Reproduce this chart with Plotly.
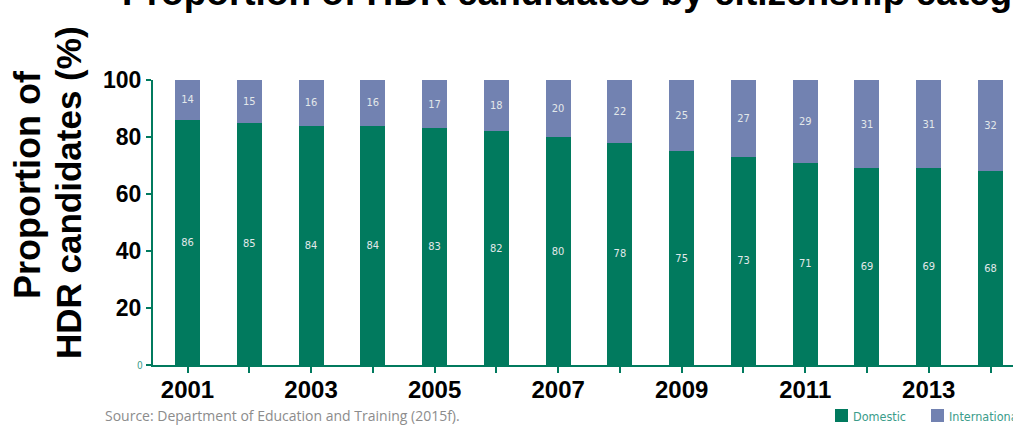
import plotly.graph_objects as go

years = list(range(2001, 2015))
domestic = [86, 85, 84, 84, 83, 82, 80, 78, 75, 73, 71, 69, 69, 68]
international = [14, 15, 16, 16, 17, 18, 20, 22, 25, 27, 29, 31, 31, 32]
series_names = ["Domestic", "International"]
x_tick_labels = [str(y) if y % 2 == 1 else "" for y in years]
y_tick_vals = [0, 20, 40, 60, 80, 100]
y_tick_labels = ["", "20", "40", "60", "80", "100"]

GREEN = "#017A5E"
PURPLE = "#7282B1"
TEAL_TXT = "#3B9C8A"
W, H = 1013, 425
L, R, T, B = 153, 0, 80, 60
PW, PH = W - L - R, H - T - B

def px(x):
    return (x - L) / PW

def py(y):
    return (H - B - y) / PH

bar_font = dict(family="DejaVu Sans Condensed, Liberation Sans Narrow, Arial", size=11, color="#E2E8EA")

fig = go.Figure()
fig.add_trace(go.Bar(x=years, y=domestic, name=series_names[0], marker=dict(color=GREEN, line=dict(width=0)),
                     width=0.405, text=domestic, textposition="inside", insidetextanchor="middle",
                     textangle=0, textfont=bar_font))
fig.add_trace(go.Bar(x=years, y=international, name=series_names[1], marker=dict(color=PURPLE, line=dict(width=0)),
                     width=0.405, text=international, textposition="inside", insidetextanchor="middle",
                     textangle=0, textfont=bar_font))

fig.update_layout(
    barmode="stack",
    width=W, height=H,
    margin=dict(l=L, r=R, t=T, b=B, pad=0),
    plot_bgcolor="white", paper_bgcolor="white",
    showlegend=False,
    font=dict(family="Liberation Sans, Arial", color="black"),
)
fig.update_xaxes(
    range=[2000.4415, 2014.364], tickmode="array", tickvals=years, ticktext=x_tick_labels,
    showline=True, linecolor=GREEN, linewidth=2, ticks="outside", ticklen=6, tickwidth=2, tickcolor=GREEN,
    tickfont=dict(family="Liberation Sans, Arial", size=24, color="black", weight="bold"),
    ticklabelstandoff=-4,
    showgrid=False, zeroline=False,
)
fig.update_yaxes(
    range=[0, 100], tickmode="array", tickvals=y_tick_vals, ticktext=y_tick_labels,
    showline=True, linecolor=GREEN, linewidth=2, ticks="outside", ticklen=5, tickwidth=2, tickcolor=GREEN,
    tickfont=dict(family="Liberation Sans, Arial", size=23, color="black", weight="bold"),
    showgrid=False, zeroline=False,
)

ann = []
# small green "0" tick label
ann.append(dict(xref="paper", yref="paper", x=px(145), y=0, text="0", showarrow=False,
                xanchor="right", yanchor="middle", font=dict(family="DejaVu Sans Condensed, Arial", size=10, color=TEAL_TXT)))
# y-axis title (two lines)
ann.append(dict(xref="paper", yref="paper", x=px(27), y=py(185), text="Proportion of", showarrow=False,
                textangle=-90, xanchor="center", yanchor="middle",
                font=dict(family="Liberation Sans, Arial", size=36, color="black", weight="bold")))
ann.append(dict(xref="paper", yref="paper", x=px(68), y=py(193), text="HDR candidates (%)", showarrow=False,
                textangle=-90, xanchor="center", yanchor="middle",
                font=dict(family="Liberation Sans, Arial", size=35, color="black", weight="bold")))
# chart title (cut off at the top)
ann.append(dict(xref="paper", yref="paper", x=px(120), y=py(-7), text="Proportion of HDR candidates by citizenship category",
                showarrow=False, xanchor="left", yanchor="middle",
                font=dict(family="Liberation Sans, Arial", size=37, color="black", weight="bold")))
# source
ann.append(dict(xref="paper", yref="paper", x=px(103), y=py(415.5), text="Source: Department of Education and Training (2015f).",
                showarrow=False, xanchor="left", yanchor="middle",
                font=dict(family="Open Sans, Noto Sans, Arial", size=14, color="#8C8C8C")))
# legend
legend_items = [(series_names[0], GREEN, 835), (series_names[1], PURPLE, 931)]
shapes = []
for name, col, x0 in legend_items:
    shapes.append(dict(type="rect", xref="paper", yref="paper", x0=px(x0), x1=px(x0 + 13),
                       y0=py(422), y1=py(409), fillcolor=col, line=dict(width=0)))
    ann.append(dict(xref="paper", yref="paper", x=px(x0 + 16), y=py(416), text=name, showarrow=False,
                    xanchor="left", yanchor="middle",
                    font=dict(family="DejaVu Sans Condensed, Arial", size=12.5, color=TEAL_TXT)))

fig.update_layout(annotations=ann, shapes=shapes)
fig.write_html("out.html")
